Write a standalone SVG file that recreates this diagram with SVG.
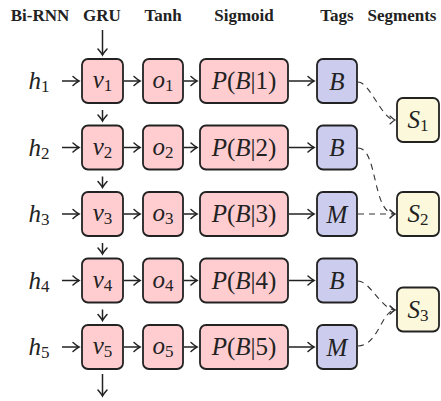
<svg xmlns="http://www.w3.org/2000/svg" width="441" height="401" viewBox="0 0 441 401">
<style>
.hd{font-family:"Liberation Serif","Times New Roman",serif;font-weight:bold;font-size:17px;fill:#222;text-anchor:middle}
.m{font-family:"Liberation Serif","Times New Roman",serif;font-style:italic;font-size:25px;fill:#222;text-anchor:middle}
.up{font-style:normal}
.sb{font-style:normal;font-size:17px}
.box{stroke:#222;stroke-width:1.8}
.pk{fill:#FFCCD0}
.bl{fill:#CCCCEE}
.yl{fill:#FCF8DC}
.ar{fill:none;stroke:#222;stroke-width:1.5;marker-end:url(#ah)}
.da{fill:none;stroke:#333;stroke-width:1.1;stroke-dasharray:6,5;marker-end:url(#ahs)}
</style>
<defs>
<marker id="ah" markerUnits="userSpaceOnUse" markerWidth="12" markerHeight="12" viewBox="-7 -6 9 12" refX="0" refY="0" orient="auto">
<path d="M-6,-4.5 Q-2,-1 0,0 Q-2,1 -6,4.5" fill="none" stroke="#222" stroke-width="1.5" stroke-linecap="round"/>
</marker>
<marker id="ahs" markerUnits="userSpaceOnUse" markerWidth="12" markerHeight="12" viewBox="-7 -6 9 12" refX="0" refY="0" orient="auto">
<path d="M-5,-4 Q-2,-1 0,0 Q-2,1 -5,4" fill="none" stroke="#333" stroke-width="1.1" stroke-linecap="round"/>
</marker>
</defs>
<g id="headers">
<text class="hd" x="40" y="21">Bi-RNN</text>
<text class="hd" x="102" y="21">GRU</text>
<text class="hd" x="163" y="21">Tanh</text>
<text class="hd" x="244" y="21">Sigmoid</text>
<text class="hd" x="337" y="21">Tags</text>
<text class="hd" x="402" y="21">Segments</text>
</g>
<g id="connectors">
<path class="ar" d="M102.5,30 V55"/>
<path class="ar" d="M102.5,110 V121"/>
<path class="ar" d="M102.5,176.5 V187.5"/>
<path class="ar" d="M102.5,243 V254"/>
<path class="ar" d="M102.5,309.5 V320.5"/>
<path class="ar" d="M102.5,374 V396"/>
<path class="ar" d="M62,81 H79"/><path class="ar" d="M124,81 H140"/><path class="ar" d="M184,81 H197"/><path class="ar" d="M289,81 H314"/>
<path class="ar" d="M62,147.5 H79"/><path class="ar" d="M124,147.5 H140"/><path class="ar" d="M184,147.5 H197"/><path class="ar" d="M289,147.5 H314"/>
<path class="ar" d="M62,214 H79"/><path class="ar" d="M124,214 H140"/><path class="ar" d="M184,214 H197"/><path class="ar" d="M289,214 H314"/>
<path class="ar" d="M62,280.5 H79"/><path class="ar" d="M124,280.5 H140"/><path class="ar" d="M184,280.5 H197"/><path class="ar" d="M289,280.5 H314"/>
<path class="ar" d="M62,347 H79"/><path class="ar" d="M124,347 H140"/><path class="ar" d="M184,347 H197"/><path class="ar" d="M289,347 H314"/>
<path class="da" d="M358,82 C370,82 382,120 395,120"/>
<path class="da" d="M358,148 C378,148 372,214 395,214"/>
<path class="da" d="M358,214 H395"/>
<path class="da" d="M358,281 C370,281 382,310 395,310"/>
<path class="da" d="M358,346 C378,346 382,310 395,310"/>
</g>
<g id="h-labels">
<text class="m" x="39" y="89">h<tspan class="sb" dy="3">1</tspan></text>
<text class="m" x="39" y="155.5">h<tspan class="sb" dy="3">2</tspan></text>
<text class="m" x="39" y="222">h<tspan class="sb" dy="3">3</tspan></text>
<text class="m" x="39" y="288.5">h<tspan class="sb" dy="3">4</tspan></text>
<text class="m" x="39" y="355">h<tspan class="sb" dy="3">5</tspan></text>
</g>
<g id="v1"><rect class="box pk" x="82" y="59" width="41" height="44" rx="6"/><text class="m" x="102.5" y="88">v<tspan class="sb" dy="3">1</tspan></text></g>
<g id="v2"><rect class="box pk" x="82" y="125.5" width="41" height="44" rx="6"/><text class="m" x="102.5" y="154.5">v<tspan class="sb" dy="3">2</tspan></text></g>
<g id="v3"><rect class="box pk" x="82" y="192" width="41" height="44" rx="6"/><text class="m" x="102.5" y="221">v<tspan class="sb" dy="3">3</tspan></text></g>
<g id="v4"><rect class="box pk" x="82" y="258.5" width="41" height="44" rx="6"/><text class="m" x="102.5" y="287.5">v<tspan class="sb" dy="3">4</tspan></text></g>
<g id="v5"><rect class="box pk" x="82" y="325" width="41" height="44" rx="6"/><text class="m" x="102.5" y="354">v<tspan class="sb" dy="3">5</tspan></text></g>
<g id="o1"><rect class="box pk" x="143" y="59" width="40" height="44" rx="6"/><text class="m" x="163" y="88">o<tspan class="sb" dy="3">1</tspan></text></g>
<g id="o2"><rect class="box pk" x="143" y="125.5" width="40" height="44" rx="6"/><text class="m" x="163" y="154.5">o<tspan class="sb" dy="3">2</tspan></text></g>
<g id="o3"><rect class="box pk" x="143" y="192" width="40" height="44" rx="6"/><text class="m" x="163" y="221">o<tspan class="sb" dy="3">3</tspan></text></g>
<g id="o4"><rect class="box pk" x="143" y="258.5" width="40" height="44" rx="6"/><text class="m" x="163" y="287.5">o<tspan class="sb" dy="3">4</tspan></text></g>
<g id="o5"><rect class="box pk" x="143" y="325" width="40" height="44" rx="6"/><text class="m" x="163" y="354">o<tspan class="sb" dy="3">5</tspan></text></g>
<g id="p1"><rect class="box pk" x="200" y="59" width="88" height="44" rx="6"/><text class="m" x="244" y="89">P<tspan class="up">(</tspan>B<tspan class="up">|1)</tspan></text></g>
<g id="p2"><rect class="box pk" x="200" y="125.5" width="88" height="44" rx="6"/><text class="m" x="244" y="155.5">P<tspan class="up">(</tspan>B<tspan class="up">|2)</tspan></text></g>
<g id="p3"><rect class="box pk" x="200" y="192" width="88" height="44" rx="6"/><text class="m" x="244" y="222">P<tspan class="up">(</tspan>B<tspan class="up">|3)</tspan></text></g>
<g id="p4"><rect class="box pk" x="200" y="258.5" width="88" height="44" rx="6"/><text class="m" x="244" y="288.5">P<tspan class="up">(</tspan>B<tspan class="up">|4)</tspan></text></g>
<g id="p5"><rect class="box pk" x="200" y="325" width="88" height="44" rx="6"/><text class="m" x="244" y="355">P<tspan class="up">(</tspan>B<tspan class="up">|5)</tspan></text></g>
<g id="t1"><rect class="box bl" x="317" y="59" width="40" height="44" rx="6"/><text class="m" x="337" y="89.5">B</text></g>
<g id="t2"><rect class="box bl" x="317" y="125.5" width="40" height="44" rx="6"/><text class="m" x="337" y="156">B</text></g>
<g id="t3"><rect class="box bl" x="317" y="192" width="40" height="44" rx="6"/><text class="m" x="337" y="222.5">M</text></g>
<g id="t4"><rect class="box bl" x="317" y="258.5" width="40" height="44" rx="6"/><text class="m" x="337" y="289">B</text></g>
<g id="t5"><rect class="box bl" x="317" y="325" width="40" height="44" rx="6"/><text class="m" x="337" y="355.5">M</text></g>
<g id="s1"><rect class="box yl" x="397" y="98" width="42" height="44" rx="6"/><text class="m" x="418" y="128">S<tspan class="sb" dy="3">1</tspan></text></g>
<g id="s2"><rect class="box yl" x="397" y="192" width="42" height="44" rx="6"/><text class="m" x="418" y="222">S<tspan class="sb" dy="3">2</tspan></text></g>
<g id="s3"><rect class="box yl" x="397" y="287.5" width="42" height="44" rx="6"/><text class="m" x="418" y="317.5">S<tspan class="sb" dy="3">3</tspan></text></g>
</svg>
